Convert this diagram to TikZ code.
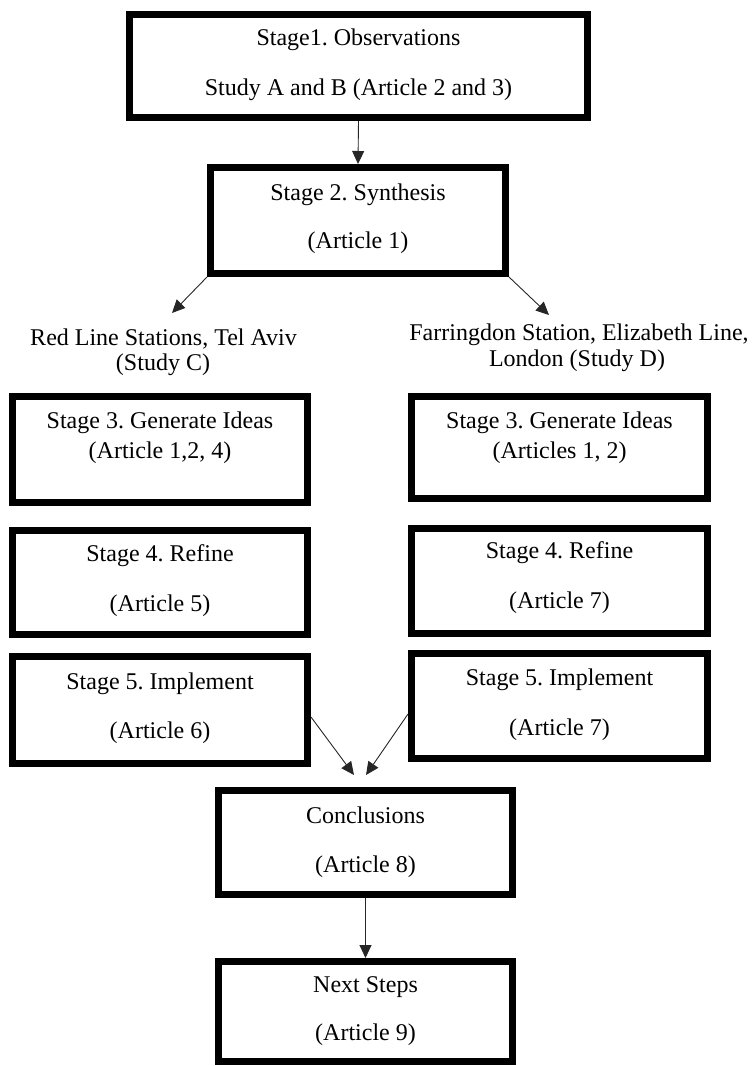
\documentclass[tikz,border=0pt]{standalone}
\usepackage{fontspec}
\setmainfont{Liberation Serif}
\usetikzlibrary{arrows.meta}
\frenchspacing

\tikzset{
  stagebox/.style={draw=black, line width=7pt, rectangle, inner sep=0pt,
    minimum width=#1},
  stagebox/.default=295pt,
  txt/.style={anchor=base, inner sep=0pt, font=\fontsize{24}{28}\selectfont},
  flow/.style={draw=black!85, line width=0.9pt,
    -{Triangle[length=13pt,width=12pt]}}
}

\begin{document}
\begin{tikzpicture}[x=1pt, y=-1pt]
\useasboundingbox (0,0) rectangle (753,1066);

% boxes
\node[stagebox=458pt, minimum height=103pt] (s1) at (358.5,66) {};
\node[stagebox=295pt, minimum height=106pt] (s2) at (358,220.5) {};
\node[stagebox=295pt, minimum height=106pt] (s3l) at (160,449.5) {};
\node[stagebox=296pt, minimum height=102pt] (s3r) at (559.5,447.5) {};
\node[stagebox=295pt, minimum height=104pt] (s4l) at (160,582.5) {};
\node[stagebox=296pt, minimum height=105pt] (s4r) at (559.5,581) {};
\node[stagebox=295pt, minimum height=107pt] (s5l) at (160,710) {};
\node[stagebox=296pt, minimum height=105pt] (s5r) at (559.5,706) {};
\node[stagebox=294pt, minimum height=104pt] (conc) at (365.5,842.5) {};
\node[stagebox=294pt, minimum height=100pt] (next) at (365.5,1011.5) {};

% box texts
\node[txt] (s1a) at (358.5,45) {Stage1. Observations};
\node[txt] (s1b) at (358.5,95) {Study A and B (Article 2 and 3)};
\node[txt] (s2a) at (358,200) {Stage 2. Synthesis};
\node[txt] (s2b) at (358,248) {(Article 1)};

\node[txt] (lla) at (163.5,345) {Red Line Stations, Tel Aviv};
\node[txt] (llb) at (163,370) {(Study C)};
\node[txt] (lra) at (579,340) {Farringdon Station, Elizabeth Line,};
\node[txt] (lrb) at (577,366) {London (Study D)};

\node[txt] (s3la) at (160,428) {Stage 3. Generate Ideas};
\node[txt] (s3lb) at (160,458) {(Article 1,2, 4)};
\node[txt] (s3ra) at (559.5,428) {Stage 3. Generate Ideas};
\node[txt] (s3rb) at (559.5,458) {(Articles 1, 2)};

\node[txt] (s4la) at (160,561) {Stage 4. Refine};
\node[txt] (s4lb) at (160,611) {(Article 5)};
\node[txt] (s4ra) at (559.5,558) {Stage 4. Refine};
\node[txt] (s4rb) at (559.5,608) {(Article 7)};

\node[txt] (s5la) at (160,689) {Stage 5. Implement};
\node[txt] (s5lb) at (160,738) {(Article 6)};
\node[txt] (s5ra) at (559.5,685) {Stage 5. Implement};
\node[txt] (s5rb) at (559.5,735) {(Article 7)};

\node[txt] (conca) at (365.5,823) {Conclusions};
\node[txt] (concb) at (365.5,872) {(Article 8)};
\node[txt] (nexta) at (365.5,992) {Next Steps};
\node[txt] (nextb) at (365.5,1040) {(Article 9)};

% arrow end points
\coordinate (tipL) at (172,313);
\coordinate (tipR) at (549,315);
\coordinate (inL) at (354,775);
\coordinate (inR) at (366,775);

% connectors
\draw[flow] (s1.south) -- (s2.north);
\draw[flow] (s2.south west) -- (tipL);
\draw[flow] (s2.south east) -- (tipR);
\draw[flow] ([yshift=-7pt]s5l.east) -- (inL);
\draw[flow] ([yshift=-8pt]s5r.west) -- (inR);
\draw[flow] (conc.south) -- (next.north);
\end{tikzpicture}
\end{document}
